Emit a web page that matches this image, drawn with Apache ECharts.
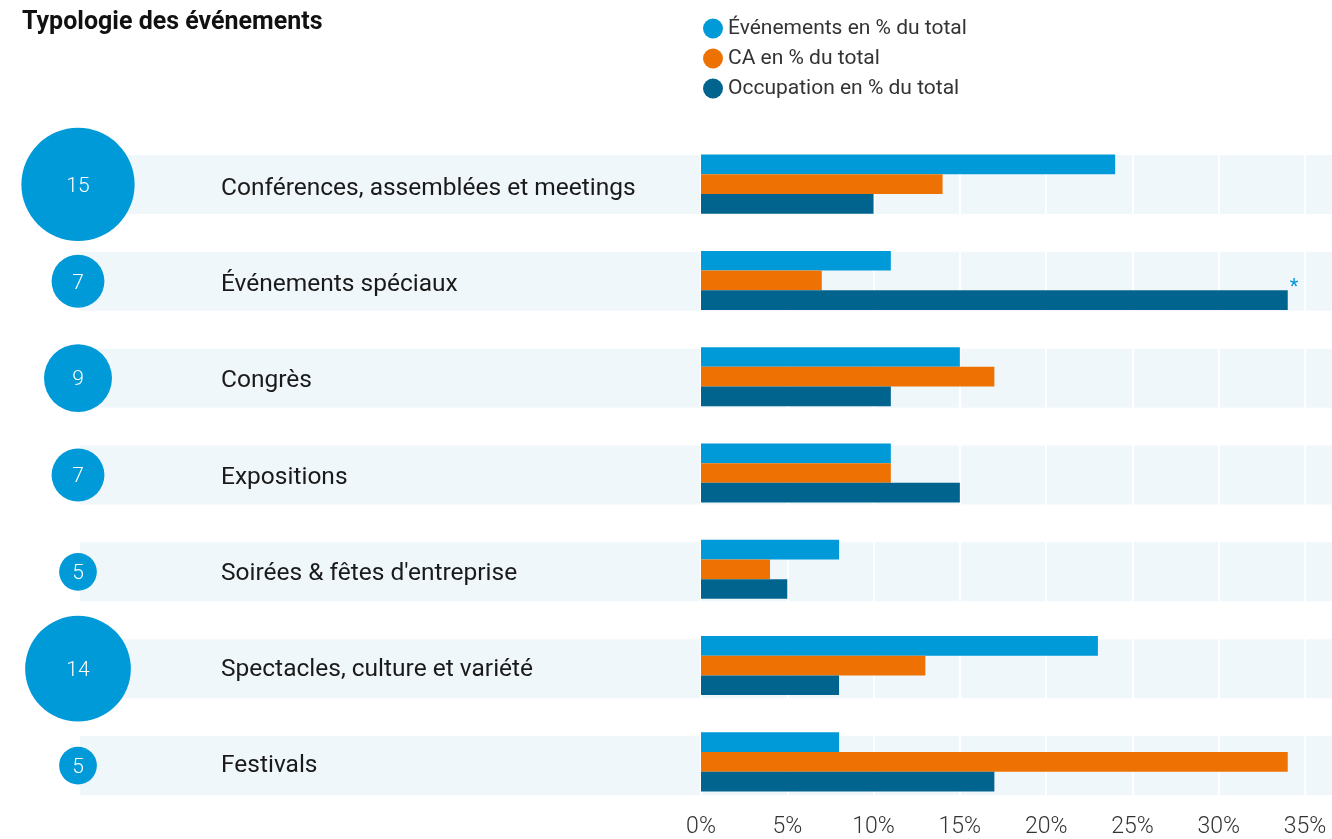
<!DOCTYPE html>
<html>
<head>
<meta charset="utf-8">
<script src="https://cdn.jsdelivr.net/npm/echarts@6/dist/echarts.min.js"></script>
<style>
  html, body { margin: 0; padding: 0; background: #fff; }
</style>
</head>
<body>
<div id="typologie" style="width: 1332px; height: 839px"></div>
<script>
// categories, top to bottom
var categories = [
  "Conférences, assemblées et meetings",
  "Événements spéciaux",
  "Congrès",
  "Expositions",
  "Soirées & fêtes d'entreprise",
  "Spectacles, culture et variété",
  "Festivals",
];
// number shown in the bubbles
var bubbleValues = [15, 7, 9, 7, 5, 14, 5];
// % of total
var evenements = [24, 11, 15, 11, 8, 23, 8];
var ca = [14, 7, 17, 11, 4, 13, 34];
var occupation = [10, 34, 11, 15, 5, 8, 17];
var xTicks = [0, 5, 10, 15, 20, 25, 30, 35];

var BLUE = "#009ad8";
var ORANGE = "#ee7203";
var DARK = "#00648f";
var BAND = "#eff7fb";

var chartDom = document.getElementById("typologie");
var myChart = echarts.init(chartDom);
var option;

var occData = occupation.map(function (v, i) {
  // asterisk next to the truncated bar
  if (i === 1) {
    return {
      value: v,
      label: {
        show: true,
        position: "right",
        formatter: "*",
        color: BLUE,
        fontSize: 20,
        fontFamily: "Roboto",
        offset: [-3, -12],
      },
    };
  }
  return v;
});

option = {
  animation: false,
  title: {
    text: "Typologie des événements",
    left: 22,
    top: 10,
    padding: 0,
    textStyle: {
      fontFamily: "Roboto",
      fontWeight: "bold",
      fontSize: 25,
      color: "#111",
    },
  },
  legend: {
    orient: "vertical",
    left: 703,
    top: 18,
    padding: 0,
    icon: "circle",
    itemWidth: 20,
    itemHeight: 20,
    itemGap: 9,
    textStyle: { fontFamily: "Roboto", fontSize: 21, color: "#333" },
    data: ["Événements en % du total", "CA en % du total", "Occupation en % du total"],
  },
  grid: [
    // background bands + bubbles, pixel x scale
    { left: 0, right: 0, top: 136, bottom: 25 },
    // bars
    { left: 701, right: 27, top: 136, bottom: 25 },
  ],
  xAxis: [
    { gridIndex: 0, type: "value", min: 0, max: 1332, show: false },
    {
      gridIndex: 1,
      type: "value",
      min: 0,
      max: 35,
      interval: 5,
      z: 2,
      axisLine: { show: false },
      axisTick: { show: false },
      splitLine: { show: true, lineStyle: { color: "#ffffff", width: 2 } },
      axisLabel: {
        margin: 6,
        fontFamily: "Roboto",
        fontWeight: 300,
        fontSize: 23,
        color: "#333",
        formatter: function (v) {
          return xTicks.indexOf(v) >= 0 ? v + "%" : "";
        },
      },
    },
  ],
  yAxis: [
    { gridIndex: 0, type: "category", inverse: true, data: categories, show: false },
    {
      gridIndex: 1,
      type: "category",
      inverse: true,
      data: categories,
      z: 2,
      axisLine: { show: false },
      axisTick: { show: false },
      axisLabel: {
        align: "left",
        margin: 480,
        formatter: function (v) {
          return "{a|" + v + "}";
        },
        rich: {
          a: {
            padding: [9, 0, 0, 0],
            fontFamily: "Roboto",
            fontSize: 24.5,
            color: "#1a1a1a",
          },
        },
      },
    },
  ],
  series: [
    {
      type: "bar",
      xAxisIndex: 0,
      yAxisIndex: 0,
      stack: "band",
      barWidth: 59,
      z: 1,
      silent: true,
      itemStyle: { color: "transparent" },
      data: categories.map(function () { return 80; }),
    },
    {
      type: "bar",
      xAxisIndex: 0,
      yAxisIndex: 0,
      stack: "band",
      barWidth: 59,
      z: 1,
      silent: true,
      itemStyle: { color: BAND },
      data: categories.map(function () { return 1252; }),
    },
    {
      name: "Événements en % du total",
      type: "bar",
      xAxisIndex: 1,
      yAxisIndex: 1,
      barWidth: 19.7,
      barGap: "0%",
      z: 3,
      itemStyle: { color: BLUE },
      data: evenements,
    },
    {
      name: "CA en % du total",
      type: "bar",
      xAxisIndex: 1,
      yAxisIndex: 1,
      barWidth: 19.7,
      barGap: "0%",
      z: 3,
      itemStyle: { color: ORANGE },
      data: ca,
    },
    {
      name: "Occupation en % du total",
      type: "bar",
      xAxisIndex: 1,
      yAxisIndex: 1,
      barWidth: 19.7,
      barGap: "0%",
      z: 3,
      itemStyle: { color: DARK },
      data: occData,
    },
    {
      type: "scatter",
      xAxisIndex: 0,
      yAxisIndex: 0,
      z: 4,
      silent: true,
      symbol: "circle",
      symbolSize: function (val) {
        return val[2] * 7.55;
      },
      itemStyle: { color: BLUE, opacity: 1 },
      label: {
        show: true,
        position: "inside",
        offset: [0, 2],
        color: "#fff",
        fontFamily: "Roboto",
        fontWeight: 300,
        fontSize: 21,
        formatter: function (p) {
          return p.value[2];
        },
      },
      data: bubbleValues.map(function (v, i) {
        return [78, categories[i], v];
      }),
    },
  ],
};

option && myChart.setOption(option);
</script>
</body>
</html>
